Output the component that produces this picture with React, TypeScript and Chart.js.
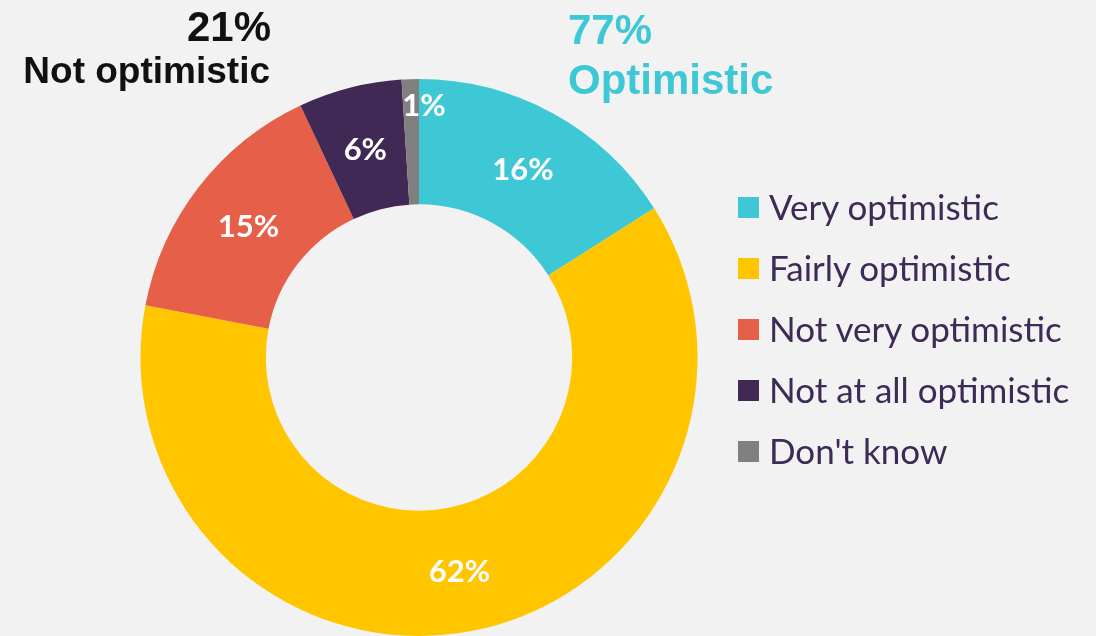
import React, { useEffect, useRef } from "react";
import { Chart, registerables } from "chart.js";

Chart.register(...registerables);

const categories = [
  "Very optimistic",
  "Fairly optimistic",
  "Not very optimistic",
  "Not at all optimistic",
  "Don't know",
];
const values = [16, 62, 15, 6, 1];
const sliceColors = ["#3ec8d5", "#ffc600", "#e65f48", "#402955", "#808080"];
const optimisticTotal = "77%";
const optimisticLabel = "Optimistic";
const notOptimisticTotal = "21%";
const notOptimisticLabel = "Not optimistic";

const BG = "#f2f2f2";
const LEGEND_TEXT = "#3d2a55";

const sliceLabelPlugin = {
  id: "sliceLabels",
  afterDatasetsDraw(chart: any, _args: any, opts: any) {
    const meta = chart.getDatasetMeta(0);
    const ctx = chart.ctx;
    ctx.save();
    ctx.font = opts.font;
    ctx.fillStyle = opts.color;
    ctx.textAlign = "center";
    ctx.textBaseline = "alphabetic";
    meta.data.forEach((arc: any, i: number) => {
      const p = arc.getProps(
        ["x", "y", "startAngle", "endAngle", "innerRadius", "outerRadius"],
        true
      );
      const mid = (p.startAngle + p.endAngle) / 2;
      const v = values[i];
      let r = (p.innerRadius + p.outerRadius) / 2;
      let dx = 0;
      if (v < opts.smallThreshold) {
        r = p.outerRadius * opts.smallRadius;
        dx = opts.smallDx;
      }
      const cx = p.x + Math.cos(mid) * r + dx;
      const cy = p.y + Math.sin(mid) * r + opts.baselineShift;
      ctx.fillText(v + "%", cx, cy);
    });
    ctx.restore();
  },
};

function DoughnutChart() {
  const ref = useRef<HTMLCanvasElement | null>(null);
  useEffect(() => {
    if (!ref.current) return;
    const chart = new Chart(ref.current, {
      type: "doughnut",
      data: {
        labels: categories,
        datasets: [
          {
            data: values,
            backgroundColor: sliceColors,
            borderWidth: 0,
          },
        ],
      },
      options: {
        animation: false,
        responsive: false,
        maintainAspectRatio: false,
        cutout: "55%",
        layout: { padding: { left: 139, top: 79, right: 397, bottom: 0 } },
        plugins: {
          legend: { display: false },
          tooltip: { enabled: false },
          sliceLabels: {
            font: "bold 31px Lato",
            color: "#ffffff",
            smallThreshold: 3,
            smallRadius: 0.91,
            smallDx: 13,
            baselineShift: 12,
          },
        } as any,
      },
      plugins: [sliceLabelPlugin],
    });
    return () => chart.destroy();
  }, []);
  return (
    <canvas
      ref={ref}
      width={1096}
      height={636}
      style={{ position: "absolute", left: 0, top: 0, width: 1096, height: 636 }}
    />
  );
}

export default function App() {
  const head: React.CSSProperties = {
    position: "absolute",
    fontFamily: "'Liberation Sans', Arial, sans-serif",
    fontWeight: 700,
    whiteSpace: "nowrap",
    margin: 0,
  };
  return (
    <div
      style={{
        position: "fixed",
        left: 0,
        top: 0,
        width: 1096,
        height: 636,
        background: BG,
        overflow: "hidden",
      }}
    >
      <DoughnutChart />
      <div style={{ ...head, right: 1096 - 271, top: 6, fontSize: 42, lineHeight: "42px", color: "#111" }}>
        {notOptimisticTotal}
      </div>
      <div style={{ ...head, right: 1096 - 270, top: 52, fontSize: 37, lineHeight: "37px", color: "#111" }}>
        {notOptimisticLabel}
      </div>
      <div style={{ ...head, left: 568, top: 9, fontSize: 42, lineHeight: "42px", color: sliceColors[0] }}>
        {optimisticTotal}
      </div>
      <div style={{ ...head, left: 568, top: 59, fontSize: 42, lineHeight: "42px", color: sliceColors[0] }}>
        {optimisticLabel}
      </div>
      {categories.map((c, i) => (
        <div
          key={c}
          style={{
            position: "absolute",
            left: 738,
            top: 189 + i * 61,
            height: 35,
            whiteSpace: "nowrap",
          }}
        >
          <span
            style={{
              position: "absolute",
              left: 0,
              top: 8,
              width: 21,
              height: 21,
              background: sliceColors[i],
            }}
          />
          <span
            style={{
              position: "absolute",
              left: 31,
              top: 0,
              fontFamily: "Lato, sans-serif",
              fontSize: 35,
              lineHeight: "35px",
              color: LEGEND_TEXT,
            }}
          >
            {c}
          </span>
        </div>
      ))}
    </div>
  );
}
